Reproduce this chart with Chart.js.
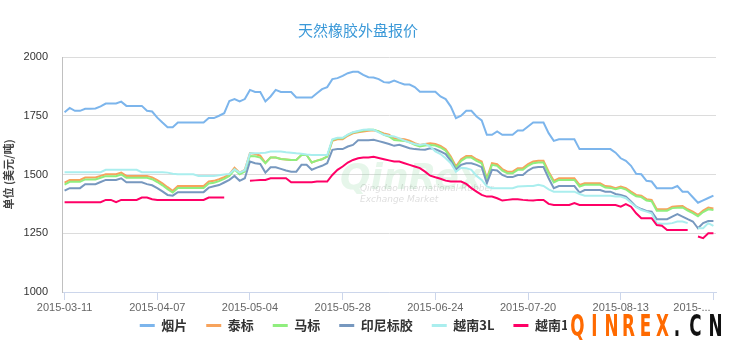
<!DOCTYPE html>
<html>
<head>
<meta charset="utf-8">
<title>天然橡胶外盘报价</title>
<script src="https://cdn.jsdelivr.net/npm/chart.js@4.4.1/dist/chart.umd.min.js"></script>
<style>
    html, body { margin: 0; padding: 0; background: #fff; }
    #wrap { width: 730px; height: 351px; }
</style>
</head>
<body>
<div id="wrap"><canvas id="myChart" width="730" height="351"></canvas></div>
<script>
// trading days (category axis)
var dates = [
    '2015-03-11', '2015-03-12', '2015-03-13', '2015-03-16', '2015-03-17', '2015-03-18', '2015-03-19', '2015-03-20', '2015-03-23', '2015-03-24',
    '2015-03-25', '2015-03-26', '2015-03-27', '2015-03-30', '2015-03-31', '2015-04-01', '2015-04-02', '2015-04-03', '2015-04-07', '2015-04-08',
    '2015-04-09', '2015-04-10', '2015-04-13', '2015-04-14', '2015-04-15', '2015-04-16', '2015-04-17', '2015-04-20', '2015-04-21', '2015-04-22',
    '2015-04-23', '2015-04-24', '2015-04-27', '2015-04-28', '2015-04-29', '2015-04-30', '2015-05-04', '2015-05-05', '2015-05-06', '2015-05-07',
    '2015-05-08', '2015-05-11', '2015-05-12', '2015-05-13', '2015-05-14', '2015-05-15', '2015-05-18', '2015-05-19', '2015-05-20', '2015-05-21',
    '2015-05-22', '2015-05-25', '2015-05-26', '2015-05-27', '2015-05-28', '2015-05-29', '2015-06-01', '2015-06-02', '2015-06-03', '2015-06-04',
    '2015-06-05', '2015-06-08', '2015-06-09', '2015-06-10', '2015-06-11', '2015-06-12', '2015-06-15', '2015-06-16', '2015-06-17', '2015-06-18',
    '2015-06-19', '2015-06-23', '2015-06-24', '2015-06-25', '2015-06-26', '2015-06-29', '2015-06-30', '2015-07-01', '2015-07-02', '2015-07-03',
    '2015-07-06', '2015-07-07', '2015-07-08', '2015-07-09', '2015-07-10', '2015-07-13', '2015-07-14', '2015-07-15', '2015-07-16', '2015-07-17',
    '2015-07-20', '2015-07-21', '2015-07-22', '2015-07-23', '2015-07-24', '2015-07-27', '2015-07-28', '2015-07-29', '2015-07-30', '2015-07-31',
    '2015-08-03', '2015-08-04', '2015-08-05', '2015-08-06', '2015-08-07', '2015-08-10', '2015-08-11', '2015-08-12', '2015-08-13', '2015-08-14',
    '2015-08-17', '2015-08-18', '2015-08-19', '2015-08-20', '2015-08-21', '2015-08-24', '2015-08-25', '2015-08-26', '2015-08-27', '2015-08-28',
    '2015-08-31', '2015-09-01', '2015-09-02', '2015-09-07', '2015-09-08', '2015-09-09', '2015-09-10'
];

var seriesNames = ['烟片', '泰标', '马标', '印尼标胶', '越南3L', '越南10'];
var seriesColors = ['#7cb5ec', '#f7a35c', '#90ee7e', '#7798bf', '#aaeeee', '#ff0066'];

// 烟片
var yanPian = [
    1765, 1783, 1771, 1771, 1780, 1780, 1781, 1790, 1802, 1802,
    1802, 1810, 1792, 1792, 1792, 1792, 1771, 1768, 1742, 1721,
    1701, 1701, 1721, 1721, 1721, 1721, 1721, 1721, 1740, 1740,
    1750, 1761, 1813, 1821, 1811, 1821, 1860, 1851, 1851, 1811,
    1832, 1860, 1851, 1851, 1851, 1828, 1828, 1828, 1828, 1846,
    1863, 1872, 1906, 1910, 1920, 1931, 1937, 1937, 1924, 1914,
    1913, 1906, 1893, 1891, 1900, 1891, 1883, 1883, 1872, 1852,
    1852, 1852, 1852, 1832, 1821, 1789, 1740, 1750, 1771, 1771,
    1747, 1730, 1669, 1669, 1683, 1669, 1669, 1669, 1687, 1687,
    1704, 1721, 1721, 1721, 1676, 1643, 1650, 1650, 1650, 1650,
    1608, 1608, 1608, 1608, 1608, 1608, 1608, 1593, 1569, 1558,
    1537, 1503, 1501, 1473, 1470, 1442, 1442, 1442, 1442, 1451,
    1427, 1427, 1403, 1380, 1390, 1400, 1410
];
// 泰标
var taiBiao = [
    1465, 1477, 1477, 1477, 1487, 1487, 1487, 1494, 1501, 1501,
    1501, 1508, 1494, 1494, 1494, 1494, 1494, 1488, 1476, 1462,
    1446, 1431, 1451, 1451, 1451, 1451, 1451, 1451, 1470, 1473,
    1480, 1489, 1501, 1529, 1508, 1520, 1591, 1587, 1580, 1550,
    1572, 1572, 1566, 1564, 1562, 1562, 1583, 1583, 1551, 1559,
    1565, 1576, 1643, 1650, 1650, 1665, 1675, 1680, 1683, 1686,
    1688, 1683, 1675, 1669, 1654, 1652, 1650, 1644, 1633, 1626,
    1630, 1633, 1630, 1622, 1608, 1576, 1534, 1565, 1579, 1579,
    1565, 1555, 1484, 1548, 1544, 1523, 1512, 1512, 1527, 1527,
    1544, 1555, 1558, 1558, 1512, 1473, 1484, 1484, 1484, 1484,
    1456, 1463, 1463, 1463, 1463, 1451, 1449, 1442, 1449, 1442,
    1427, 1413, 1410, 1395, 1392, 1352, 1352, 1352, 1363, 1365,
    1366, 1352, 1342, 1328, 1346, 1359, 1355
];
// 马标
var maBiao = [
    1457, 1469, 1469, 1469, 1479, 1479, 1479, 1486, 1493, 1493,
    1493, 1500, 1486, 1486, 1486, 1486, 1486, 1480, 1468, 1454,
    1438, 1423, 1443, 1443, 1443, 1443, 1443, 1443, 1462, 1465,
    1472, 1481, 1494, 1521, 1501, 1513, 1579, 1578, 1572, 1548,
    1572, 1572, 1566, 1564, 1562, 1562, 1583, 1583, 1551, 1559,
    1565, 1576, 1647, 1654, 1654, 1669, 1679, 1683, 1687, 1690,
    1690, 1683, 1669, 1662, 1647, 1645, 1643, 1637, 1626, 1619,
    1623, 1626, 1623, 1615, 1601, 1569, 1527, 1558, 1572, 1572,
    1558, 1548, 1478, 1541, 1537, 1516, 1505, 1505, 1520, 1520,
    1537, 1548, 1551, 1551, 1505, 1466, 1477, 1477, 1477, 1477,
    1449, 1456, 1456, 1456, 1456, 1445, 1443, 1437, 1443, 1436,
    1421, 1407, 1404, 1389, 1386, 1346, 1346, 1346, 1357, 1359,
    1360, 1346, 1336, 1322, 1340, 1352, 1349
];
// 印尼标胶
var yinNi = [
    1431, 1442, 1442, 1442, 1459, 1459, 1459, 1468, 1477, 1477,
    1477, 1484, 1467, 1467, 1467, 1467, 1459, 1454, 1442, 1428,
    1413, 1410, 1425, 1425, 1425, 1425, 1425, 1425, 1444, 1450,
    1455, 1466, 1477, 1494, 1473, 1484, 1555, 1548, 1545, 1508,
    1531, 1531, 1524, 1517, 1512, 1512, 1541, 1541, 1520, 1529,
    1537, 1548, 1605, 1608, 1608, 1619, 1626, 1646, 1646, 1646,
    1648, 1642, 1636, 1630, 1622, 1626, 1619, 1612, 1608, 1606,
    1605, 1612, 1608, 1598, 1587, 1558, 1520, 1541, 1548, 1548,
    1541, 1531, 1463, 1520, 1517, 1498, 1489, 1489, 1498, 1498,
    1517, 1529, 1532, 1532, 1484, 1442, 1451, 1451, 1451, 1451,
    1423, 1434, 1434, 1434, 1434, 1427, 1427, 1417, 1413, 1406,
    1385, 1363, 1353, 1345, 1342, 1310, 1310, 1310, 1321, 1331,
    1321, 1310, 1300, 1271, 1293, 1302, 1302
];
// 越南3L
var yueNan3L = [
    1510, 1510, 1510, 1510, 1510, 1510, 1510, 1510, 1520, 1520,
    1520, 1520, 1520, 1520, 1520, 1510, 1510, 1510, 1510, 1510,
    1508, 1503, 1501, 1501, 1501, 1501, 1494, 1494, 1494, 1494,
    1497, 1500, 1502, 1522, 1508, 1518, 1590, 1590, 1591, 1593,
    1598, 1598, 1598, 1595, 1593, 1590, 1588, 1585, 1583, 1583,
    1583, 1583, 1650, 1656, 1656, 1670, 1680, 1685, 1690, 1692,
    1690, 1679, 1669, 1665, 1662, 1654, 1644, 1636, 1630, 1626,
    1630, 1619, 1598, 1587, 1569, 1548, 1512, 1529, 1527, 1520,
    1494, 1477, 1449, 1442, 1442, 1442, 1442, 1442, 1449, 1450,
    1451, 1451, 1456, 1451, 1437, 1427, 1427, 1427, 1427, 1427,
    1417, 1410, 1410, 1410, 1410, 1410, 1410, 1406, 1406, 1399,
    1380, 1361, 1349, 1342, 1335, 1293, 1290, 1290, 1293, 1300,
    1300, 1293, null, 1271, 1271, 1293, 1281
];
// 越南10
var yueNan10 = [
    1382, 1382, 1382, 1382, 1382, 1382, 1382, 1382, 1392, 1392,
    1382, 1392, 1392, 1392, 1392, 1402, 1402, 1395, 1392, 1392,
    1392, 1392, 1392, 1392, 1392, 1392, 1392, 1392, 1402, 1402,
    1402, 1402, null, null, null, null, 1473, 1475, 1477, 1477,
    1484, 1484, 1484, 1484, 1467, 1467, 1467, 1467, 1467, 1470,
    1470, 1470, 1498, 1520, 1534, 1551, 1562, 1569, 1572, 1572,
    1575, 1570, 1565, 1560, 1555, 1555, 1548, 1541, 1534, 1527,
    1512, 1495, 1488, 1482, 1474, 1470, 1470, 1470, 1460, 1442,
    1427, 1413, 1406, 1406, 1399, 1389, 1392, 1395, 1395, 1392,
    1390, 1389, 1392, 1392, 1375, 1370, 1370, 1370, 1370, 1378,
    1370, 1370, 1370, 1370, 1370, 1370, 1370, 1370, 1363, 1374,
    1363, 1335, 1314, 1314, 1314, 1285, 1282, 1264, 1264, 1264,
    1264, 1264, null, 1236, 1229, 1250, 1250
];

var yMin = 1000, yMax = 2000, yStep = 250;
var labelEvery = 18;

var cjk = '"Noto Sans CJK SC", "Microsoft YaHei", sans-serif';
var latin = '"Liberation Sans", Arial, sans-serif';

var allSeries = [yanPian, taiBiao, maBiao, yinNi, yueNan3L, yueNan10];

// watermarks that sit on the original picture
var watermark = {
    id: 'watermark',
    afterLayout: function (chart) {
        // pull the legend up right under the axis labels
        var lg = chart.legend;
        lg.top = chart.chartArea.bottom + 8;
        lg.bottom = lg.top + lg.height;
    },
    beforeDatasetsDraw: function (chart) {
        var ctx = chart.ctx;
        ctx.save();
        ctx.font = 'italic bold 36px "DejaVu Sans"';
        ctx.fillStyle = 'rgba(140, 215, 160, 0.22)';
        ctx.fillText('QinRex', 340, 180);
        ctx.font = 'italic 9px "DejaVu Sans"';
        ctx.fillStyle = 'rgba(0, 0, 0, 0.14)';
        ctx.fillText('Qingdao International Rubber', 360, 189);
        ctx.fillText('Exchange Market', 360, 200);
        ctx.restore();
    },
    afterDraw: function (chart) {
        var ctx = chart.ctx;
        ctx.save();
        ctx.fillStyle = '#fff';
        ctx.fillRect(567, 312, 163, 30);
        ctx.font = 'bold 30px "DejaVu Sans"';
        ctx.textAlign = 'center';
        ctx.textBaseline = 'middle';
        var word = 'QINREX';
        for (var i = 0; i < word.length; i++) {
            ctx.save();
            ctx.translate(577.5 + i * 17, 328);
            ctx.scale(0.56, 1);
            ctx.fillStyle = '#ff6a00';
            ctx.fillText(word[i], 0, 0);
            ctx.restore();
        }
        var tail = ['.', 'C', 'N'];
        var tailX = [677, 695.5, 715.5];
        for (var j = 0; j < tail.length; j++) {
            ctx.save();
            ctx.translate(tailX[j], 328);
            ctx.scale(0.56, 1);
            ctx.fillStyle = '#111';
            ctx.fillText(tail[j], 0, 0);
            ctx.restore();
        }
        ctx.restore();
    }
};

var ds = seriesNames.map(function (name, k) {
    return {
        label: name,
        data: allSeries[k],
        borderColor: seriesColors[k],
        backgroundColor: seriesColors[k],
        borderWidth: 2,
        pointRadius: 0,
        pointHoverRadius: 0,
        tension: 0,
        fill: false,
        spanGaps: false,
        order: seriesNames.length - k
    };
});

const ctx = document.getElementById('myChart');
new Chart(ctx, {
    type: 'line',
    data: {
        labels: dates,
        datasets: ds
    },
    plugins: [watermark],
    options: {
        responsive: false,
        animation: false,
        devicePixelRatio: 1,
        layout: {
            padding: { left: 0, right: 14, top: 0, bottom: 1 }
        },
        plugins: {
            tooltip: { enabled: false },
            title: {
                display: true,
                text: '天然橡胶外盘报价',
                color: '#3b99d8',
                font: { family: cjk, size: 15, weight: 'normal' },
                padding: { top: 21, bottom: 18 }
            },
            legend: {
                display: true,
                position: 'bottom',
                maxHeight: 36,
                labels: {
                    usePointStyle: true,
                    pointStyle: 'line',
                    pointStyleWidth: 15,
                    padding: 19,
                    color: '#333',
                    font: { family: cjk, size: 13, weight: 'bold' },
                    sort: function (a, b) { return a.datasetIndex - b.datasetIndex; },
                    generateLabels: function (chart) {
                        var items = Chart.defaults.plugins.legend.labels.generateLabels(chart);
                        items.forEach(function (it) { it.lineWidth = 3; });
                        return items;
                    }
                }
            }
        },
        scales: {
            x: {
                offset: true,
                grid: {
                    display: true,
                    drawOnChartArea: false,
                    drawTicks: true,
                    tickLength: 8,
                    offset: false,
                    color: '#ccd6eb'
                },
                border: { display: true, color: '#ccd6eb' },
                ticks: {
                    autoSkip: false,
                    maxRotation: 0,
                    minRotation: 0,
                    padding: 1,
                    color: '#666',
                    font: { family: latin, size: 11 },
                    callback: function (value, index) {
                        if (index % labelEvery !== 0) return null;
                        if (index === dates.length - 1) {
                            // last label is cut short in the original
                            return dates[index].slice(0, 5) + '...\u2007\u2007\u2007\u2007\u2007\u2007\u2007';
                        }
                        return dates[index];
                    }
                },
                afterFit: function (scale) {
                    scale.height = 22;
                    scale.paddingLeft = 0;
                    scale.paddingRight = 0;
                }
            },
            y: {
                min: yMin,
                max: yMax,
                grid: {
                    color: '#dcdcdc',
                    drawTicks: false
                },
                border: { display: true, color: '#c0c0c0' },
                ticks: {
                    stepSize: yStep,
                    padding: 14,
                    color: '#333',
                    font: { family: latin, size: 11 },
                    callback: function (v) { return String(v); }
                },
                title: {
                    display: true,
                    text: '单位 (美元/吨)',
                    color: '#444',
                    font: { family: cjk, size: 11, weight: 'bold' },
                    padding: { top: 2, bottom: 0 }
                },
                afterFit: function (scale) {
                    scale.width = 62;
                }
            }
        }
    }
});
</script>
</body>
</html>
